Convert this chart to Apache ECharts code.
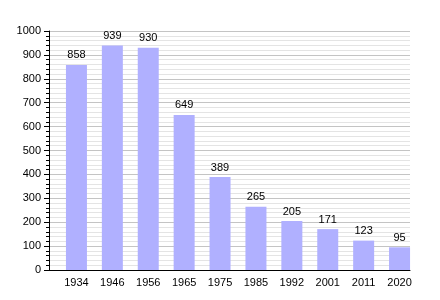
<!DOCTYPE html>
<html><head><meta charset="utf-8">
<script src="https://cdn.jsdelivr.net/npm/echarts@6/dist/echarts.min.js"></script>
<style>html,body{margin:0;padding:0;background:#fff}#c{width:440px;height:300px}</style>
</head><body><div id="c"></div>
<script>
var categories = ['1934','1946','1956','1965','1975','1985','1992','2001','2011','2020'];
var population = [858, 939, 930, 649, 389, 265, 205, 171, 123, 95];
var yMin = 0, yMax = 1000, yStep = 100;

var chart = echarts.init(document.getElementById('c'), null, {renderer:'canvas'});
var font = 'Liberation Sans, Arial, sans-serif';
chart.setOption({
  animation:false,
  grid:[
    {left:49, right:30, top:31, bottom:30},
    {left:58.5, right:22.5, top:31, bottom:30}
  ],
  xAxis:[
    {gridIndex:0, type:'category', data:categories, boundaryGap:true,
     axisLine:{show:true, lineStyle:{color:'#000', width:1}}, axisTick:{show:false}, axisLabel:{show:false}, splitLine:{show:false}},
    {gridIndex:1, type:'category', data:categories,
     axisLine:{show:false}, axisTick:{show:false},
     axisLabel:{color:'#000', fontSize:11, fontFamily:font, margin:7}}
  ],
  yAxis:[
    {gridIndex:0, type:'value', min:yMin, max:yMax, interval:yStep, splitNumber:10,
     axisLine:{show:true, lineStyle:{color:'#000'}},
     axisTick:{show:true, length:5, lineStyle:{color:'#000'}},
     minorTick:{show:true, splitNumber:5, length:3, lineStyle:{color:'#000'}},
     axisLabel:{color:'#000', fontSize:11, fontFamily:font, margin:8, formatter:function(v){return String(v);}},
     splitLine:{show:true, lineStyle:{color:'#c4c4c4', width:1}},
     minorSplitLine:{show:true, lineStyle:{color:'#e4e4e4', width:1}}},
    {gridIndex:1, type:'value', min:yMin, max:yMax, interval:yStep, show:false, splitLine:{show:false}}
  ],
  series:[{
    type:'bar', xAxisIndex:1, yAxisIndex:1, data:population, barWidth:21,
    itemStyle:{color:'#b0b0ff'},
    label:{show:true, position:'top', distance:4, color:'#000', fontSize:11, fontFamily:font}
  }]
});
</script></body></html>
